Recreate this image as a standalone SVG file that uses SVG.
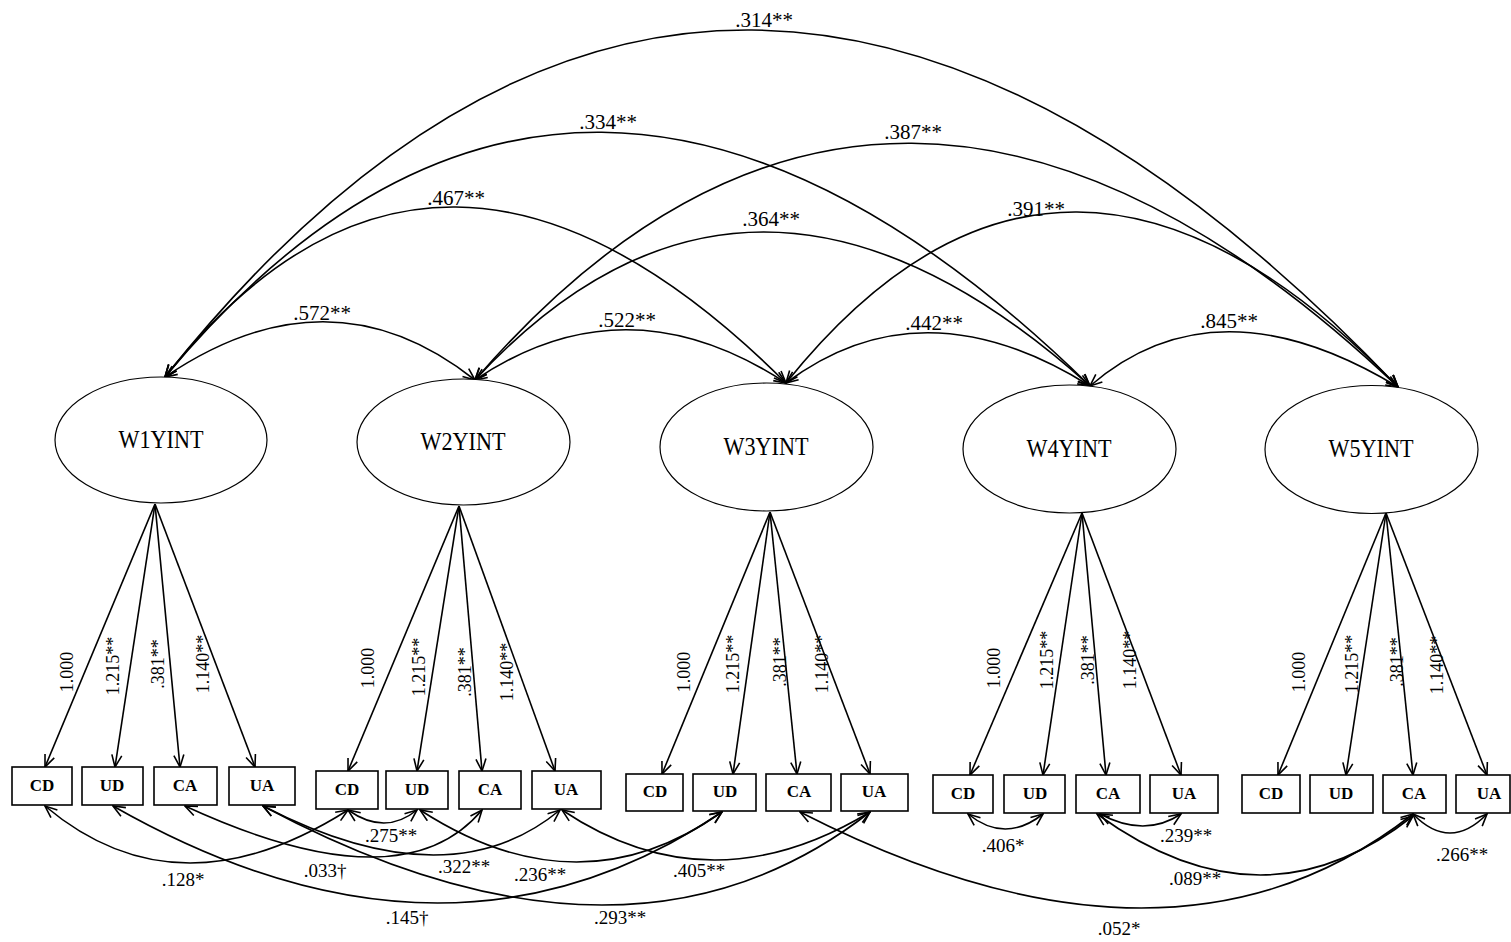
<svg xmlns="http://www.w3.org/2000/svg" width="1511" height="942" viewBox="0 0 1511 942">
  <style>
    .lat { fill: #fff; stroke: #000; stroke-width: 1.2; }
    .box { fill: #fff; stroke: #000; stroke-width: 1.6; }
    .latlbl { font-family: "Liberation Serif", serif; font-size: 25px; text-anchor: middle; fill: #000; }
    .boxlbl { font-family: "Liberation Serif", serif; font-size: 17px; font-weight: bold; text-anchor: middle; fill: #000; }
    .ld { fill: none; stroke: #000; stroke-width: 1.6; marker-end: url(#ah); }
    .cv { fill: none; stroke: #000; stroke-width: 1.6; marker-start: url(#ah); marker-end: url(#ah); }
    .top { font-family: "Liberation Serif", serif; font-size: 21px; text-anchor: middle; fill: #000; }
    .bot { font-family: "Liberation Serif", serif; font-size: 19px; text-anchor: middle; fill: #000; }
    .lod { font-family: "Liberation Serif", serif; font-size: 18px; text-anchor: middle; dominant-baseline: central; fill: #000; }
  </style>
  <defs>
    <marker id="ah" viewBox="0 0 14 12" refX="13" refY="6" markerWidth="14" markerHeight="12" markerUnits="userSpaceOnUse" orient="auto-start-reverse">
      <path d="M1,1 L13,6 L1,11" fill="none" stroke="#000" stroke-width="1.6"/>
    </marker>
  </defs>
  <rect width="1511" height="942" fill="#fff"/>

  <!-- connectors: latent covariances, loadings, residual covariances -->
  <g id="connectors">
    <!-- covariances among latent factors -->
    <path class="cv" d="M165,377 Q330,265 475,380"/>
    <path class="cv" d="M475,380 Q626,278 786,383"/>
    <path class="cv" d="M786,383 Q922,281 1090,386"/>
    <path class="cv" d="M1090,386 Q1216,277 1398,387"/>
    <path class="cv" d="M165,377 Q436,34 786,383"/>
    <path class="cv" d="M475,380 Q751,81 1090,386"/>
    <path class="cv" d="M786,383 Q1062,39 1398,387"/>
    <path class="cv" d="M165,377 Q576,-117 1090,386"/>
    <path class="cv" d="M475,380 Q887,-97 1398,387"/>
    <path class="cv" d="M165,377 Q722,-322 1398,387"/>

    <!-- factor loadings -->
    <path class="ld" d="M155,504 L45,767"/>
    <path class="ld" d="M155,504 L115,767"/>
    <path class="ld" d="M155,504 L180,767"/>
    <path class="ld" d="M155,504 L255,767"/>

    <path class="ld" d="M459,506 L348,771"/>
    <path class="ld" d="M459,506 L417,771"/>
    <path class="ld" d="M459,506 L482,771"/>
    <path class="ld" d="M459,506 L555,771"/>

    <path class="ld" d="M770,512 L662,774"/>
    <path class="ld" d="M770,512 L733,774"/>
    <path class="ld" d="M770,512 L797,774"/>
    <path class="ld" d="M770,512 L870,774"/>

    <path class="ld" d="M1082,513 L970,775"/>
    <path class="ld" d="M1082,513 L1043,775"/>
    <path class="ld" d="M1082,513 L1106,775"/>
    <path class="ld" d="M1082,513 L1181,775"/>

    <path class="ld" d="M1386,513 L1278,775"/>
    <path class="ld" d="M1386,513 L1346,775"/>
    <path class="ld" d="M1386,513 L1413,775"/>
    <path class="ld" d="M1386,513 L1487,775"/>

    <!-- residual covariances among indicators -->
    <path class="cv" d="M45,806 Q178,918 348,810"/>
    <path class="cv" d="M185,806 Q402,906 482,810"/>
    <path class="cv" d="M263,806 Q449,902 560,810"/>
    <path class="cv" d="M113,806 Q448,997 722,812"/>
    <path class="cv" d="M263,806 Q628,1001 870,812"/>
    <path class="cv" d="M348,810 Q385,836 417,810"/>
    <path class="cv" d="M420,810 Q579,913 722,812"/>
    <path class="cv" d="M562,810 Q710,909 870,812"/>
    <path class="cv" d="M800,812 Q1173,1003 1413,814"/>
    <path class="cv" d="M968,814 Q1005,844 1043,814"/>
    <path class="cv" d="M1100,814 Q1145,838 1181,814"/>
    <path class="cv" d="M1097,814 Q1263,935 1413,816"/>
    <path class="cv" d="M1413,814 Q1450,852 1487,814"/>
  </g>

  <!-- latent factors -->
  <g id="W1YINT"><ellipse class="lat" cx="161" cy="440" rx="106" ry="63"/><text class="latlbl" x="161" y="448" textLength="85" lengthAdjust="spacingAndGlyphs">W1YINT</text></g>
  <g id="W2YINT"><ellipse class="lat" cx="463.5" cy="442" rx="106.5" ry="63"/><text class="latlbl" x="463" y="450" textLength="85" lengthAdjust="spacingAndGlyphs">W2YINT</text></g>
  <g id="W3YINT"><ellipse class="lat" cx="766.5" cy="447" rx="106.5" ry="64"/><text class="latlbl" x="766" y="455" textLength="85" lengthAdjust="spacingAndGlyphs">W3YINT</text></g>
  <g id="W4YINT"><ellipse class="lat" cx="1069.5" cy="449" rx="106.5" ry="64"/><text class="latlbl" x="1069" y="457" textLength="85" lengthAdjust="spacingAndGlyphs">W4YINT</text></g>
  <g id="W5YINT"><ellipse class="lat" cx="1371.5" cy="449.5" rx="106.5" ry="64"/><text class="latlbl" x="1371" y="457" textLength="85" lengthAdjust="spacingAndGlyphs">W5YINT</text></g>

  <!-- observed indicators, wave 1 -->
  <g id="W1_CD"><rect class="box" x="12" y="767" width="60" height="38"/><text class="boxlbl" x="42" y="791">CD</text></g>
  <g id="W1_UD"><rect class="box" x="82" y="767" width="61" height="38"/><text class="boxlbl" x="112" y="791">UD</text></g>
  <g id="W1_CA"><rect class="box" x="154" y="767" width="63" height="38"/><text class="boxlbl" x="185" y="791">CA</text></g>
  <g id="W1_UA"><rect class="box" x="229" y="767" width="66" height="38"/><text class="boxlbl" x="262" y="791">UA</text></g>
  <!-- wave 2 -->
  <g id="W2_CD"><rect class="box" x="316" y="771" width="62" height="38"/><text class="boxlbl" x="347" y="795">CD</text></g>
  <g id="W2_UD"><rect class="box" x="386" y="771" width="62" height="38"/><text class="boxlbl" x="417" y="795">UD</text></g>
  <g id="W2_CA"><rect class="box" x="459" y="771" width="62" height="38"/><text class="boxlbl" x="490" y="795">CA</text></g>
  <g id="W2_UA"><rect class="box" x="532" y="771" width="69" height="38"/><text class="boxlbl" x="566" y="795">UA</text></g>
  <!-- wave 3 -->
  <g id="W3_CD"><rect class="box" x="626" y="774" width="57" height="37"/><text class="boxlbl" x="655" y="797">CD</text></g>
  <g id="W3_UD"><rect class="box" x="693" y="774" width="63" height="37"/><text class="boxlbl" x="725" y="797">UD</text></g>
  <g id="W3_CA"><rect class="box" x="766" y="774" width="65" height="37"/><text class="boxlbl" x="799" y="797">CA</text></g>
  <g id="W3_UA"><rect class="box" x="841" y="774" width="67" height="37"/><text class="boxlbl" x="874" y="797">UA</text></g>
  <!-- wave 4 -->
  <g id="W4_CD"><rect class="box" x="933" y="775" width="60" height="38"/><text class="boxlbl" x="963" y="799">CD</text></g>
  <g id="W4_UD"><rect class="box" x="1004" y="775" width="61" height="38"/><text class="boxlbl" x="1035" y="799">UD</text></g>
  <g id="W4_CA"><rect class="box" x="1076" y="775" width="64" height="38"/><text class="boxlbl" x="1108" y="799">CA</text></g>
  <g id="W4_UA"><rect class="box" x="1150" y="775" width="68" height="38"/><text class="boxlbl" x="1184" y="799">UA</text></g>
  <!-- wave 5 -->
  <g id="W5_CD"><rect class="box" x="1242" y="775" width="58" height="38"/><text class="boxlbl" x="1271" y="799">CD</text></g>
  <g id="W5_UD"><rect class="box" x="1310" y="775" width="63" height="38"/><text class="boxlbl" x="1341" y="799">UD</text></g>
  <g id="W5_CA"><rect class="box" x="1383" y="775" width="63" height="38"/><text class="boxlbl" x="1414" y="799">CA</text></g>
  <g id="W5_UA"><rect class="box" x="1456" y="775" width="54" height="38"/><text class="boxlbl" x="1489" y="799">UA</text></g>

  <!-- latent covariance labels -->
  <g id="latent-cov-labels">
    <text class="top" x="322" y="320">.572**</text>
    <text class="top" x="627" y="327">.522**</text>
    <text class="top" x="934" y="330">.442**</text>
    <text class="top" x="1229" y="328">.845**</text>
    <text class="top" x="456" y="205">.467**</text>
    <text class="top" x="771" y="226">.364**</text>
    <text class="top" x="1036" y="216">.391**</text>
    <text class="top" x="608" y="129">.334**</text>
    <text class="top" x="913" y="139">.387**</text>
    <text class="top" x="764" y="27">.314**</text>
  </g>

  <!-- loading labels -->
  <g id="loading-labels">
    <text class="lod" transform="translate(67,672) rotate(-90)">1.000</text>
    <text class="lod" transform="translate(113,666) rotate(-90)">1.215**</text>
    <text class="lod" transform="translate(158,664) rotate(-90)">.381**</text>
    <text class="lod" transform="translate(203,664) rotate(-90)">1.140**</text>

    <text class="lod" transform="translate(368,668) rotate(-90)">1.000</text>
    <text class="lod" transform="translate(419,667) rotate(-90)">1.215**</text>
    <text class="lod" transform="translate(465,672) rotate(-90)">.381**</text>
    <text class="lod" transform="translate(507,672) rotate(-90)">1.140**</text>

    <text class="lod" transform="translate(684,672) rotate(-90)">1.000</text>
    <text class="lod" transform="translate(733,664) rotate(-90)">1.215**</text>
    <text class="lod" transform="translate(780,662) rotate(-90)">.381**</text>
    <text class="lod" transform="translate(822,664) rotate(-90)">1.140**</text>

    <text class="lod" transform="translate(994,668) rotate(-90)">1.000</text>
    <text class="lod" transform="translate(1047,660) rotate(-90)">1.215**</text>
    <text class="lod" transform="translate(1088,660) rotate(-90)">.381**</text>
    <text class="lod" transform="translate(1130,660) rotate(-90)">1.140**</text>

    <text class="lod" transform="translate(1299,672) rotate(-90)">1.000</text>
    <text class="lod" transform="translate(1352,664) rotate(-90)">1.215**</text>
    <text class="lod" transform="translate(1397,662) rotate(-90)">.381**</text>
    <text class="lod" transform="translate(1437,665) rotate(-90)">1.140**</text>
  </g>

  <!-- residual covariance labels -->
  <g id="residual-cov-labels">
    <text class="bot" x="391" y="842">.275**</text>
    <text class="bot" x="183" y="886">.128*</text>
    <text class="bot" x="325" y="877">.033†</text>
    <text class="bot" x="464" y="873">.322**</text>
    <text class="bot" x="540" y="881">.236**</text>
    <text class="bot" x="699" y="877">.405**</text>
    <text class="bot" x="407" y="924">.145†</text>
    <text class="bot" x="620" y="924">.293**</text>
    <text class="bot" x="1003" y="852">.406*</text>
    <text class="bot" x="1186" y="842">.239**</text>
    <text class="bot" x="1195" y="885">.089**</text>
    <text class="bot" x="1119" y="935">.052*</text>
    <text class="bot" x="1462" y="861">.266**</text>
  </g>
</svg>
